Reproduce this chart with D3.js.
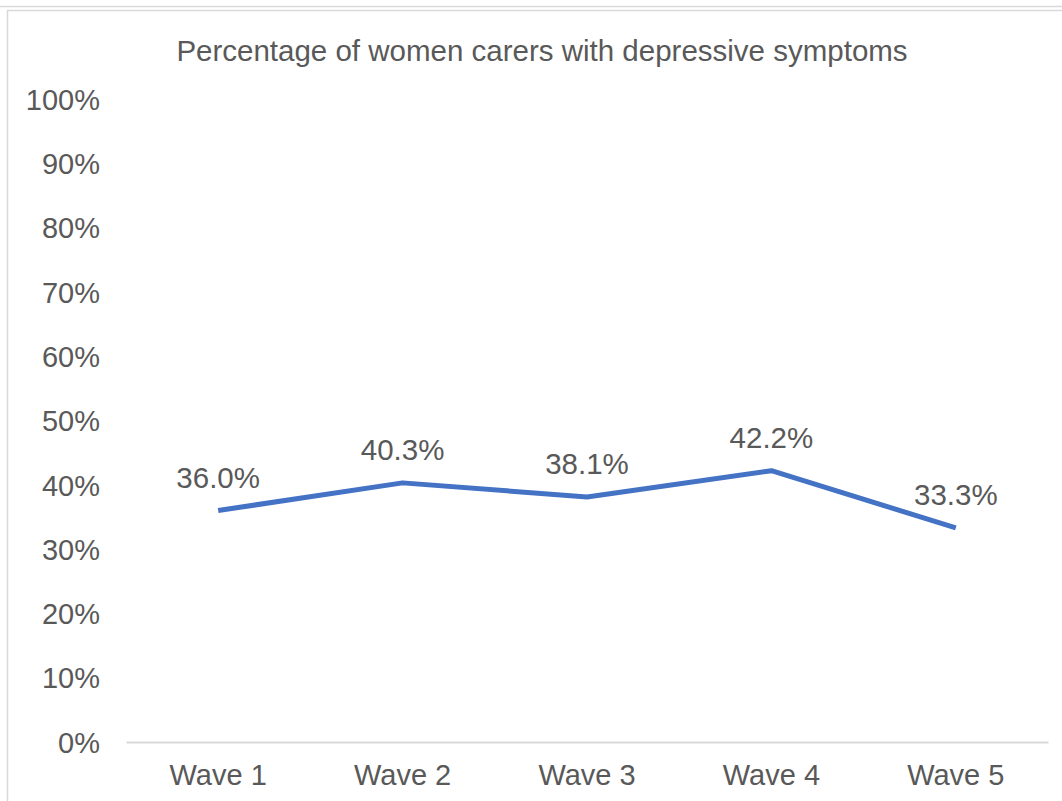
<!DOCTYPE html>
<html>
<head>
<meta charset="utf-8">
<script src="https://cdn.jsdelivr.net/npm/d3@7"></script>
<style>
  html, body { margin: 0; padding: 0; background: #fff; }
  svg { display: block; }
  text { font-family: "Liberation Sans", Arial, sans-serif; fill: #595959; }
</style>
</head>
<body>
<svg id="chart" width="1062" height="801"></svg>
<script>
const chartTitle = "Percentage of women carers with depressive symptoms";
const categories = ["Wave 1", "Wave 2", "Wave 3", "Wave 4", "Wave 5"];
const values = [0.360, 0.403, 0.381, 0.422, 0.333];
const yTicks = [0, 0.1, 0.2, 0.3, 0.4, 0.5, 0.6, 0.7, 0.8, 0.9, 1.0];

const svg = d3.select("#chart");
const W = 1062, H = 801;
const plot = { left: 126, right: 1048, top: 99, bottom: 742 };
const fontFamily = '"Liberation Sans", Arial, sans-serif';

// outer frame lines
svg.append("line").attr("x1", 0).attr("x2", W).attr("y1", 6.5).attr("y2", 6.5)
  .attr("stroke", "#d9d9d9").attr("stroke-width", 1.5);
svg.append("rect").attr("x", 7.5).attr("y", 10.5).attr("width", W + 20).attr("height", H + 20)
  .attr("fill", "none").attr("stroke", "#d9d9d9").attr("stroke-width", 1.5);

const x = d3.scaleBand().domain(categories).range([plot.left, plot.right]);
const y = d3.scaleLinear().domain([0, 1]).range([plot.bottom, plot.top]);

// title
svg.append("text").attr("x", 542).attr("y", 51).attr("dy", "0.35em")
  .attr("text-anchor", "middle").style("font-size", "29.5px").text(chartTitle);

// y axis labels (no axis line)
const yAxis = d3.axisLeft(y).tickValues(yTicks).tickFormat(d3.format(".0%")).tickSize(0).tickPadding(26);
const gy = svg.append("g").attr("transform", `translate(${plot.left},1)`).call(yAxis);
gy.select(".domain").remove();
gy.selectAll("text").style("font-size", "29px").attr("fill", "#595959")
  .style("font-family", fontFamily);

// x axis
const xAxis = d3.axisBottom(x).tickSize(0).tickPadding(22);
const gx = svg.append("g").attr("transform", `translate(0,${plot.bottom})`).call(xAxis);
gx.select(".domain").attr("stroke", "#d9d9d9").attr("stroke-width", 2);
gx.selectAll("text").style("font-size", "29px").attr("fill", "#595959")
  .style("font-family", fontFamily);

// series line
const line = d3.line()
  .x((d, i) => x(categories[i]) + x.bandwidth() / 2)
  .y(d => y(d));
svg.append("path").datum(values).attr("d", line)
  .attr("fill", "none").attr("stroke", "#4472c4").attr("stroke-width", 5)
  .attr("stroke-linejoin", "round");

// data labels
svg.append("g").selectAll("text").data(values).join("text")
  .attr("x", (d, i) => x(categories[i]) + x.bandwidth() / 2)
  .attr("y", d => y(d) - 33)
  .attr("dy", "0.35em")
  .attr("text-anchor", "middle")
  .style("font-size", "29.5px")
  .text(d => d3.format(".1%")(d));
</script>
</body>
</html>
